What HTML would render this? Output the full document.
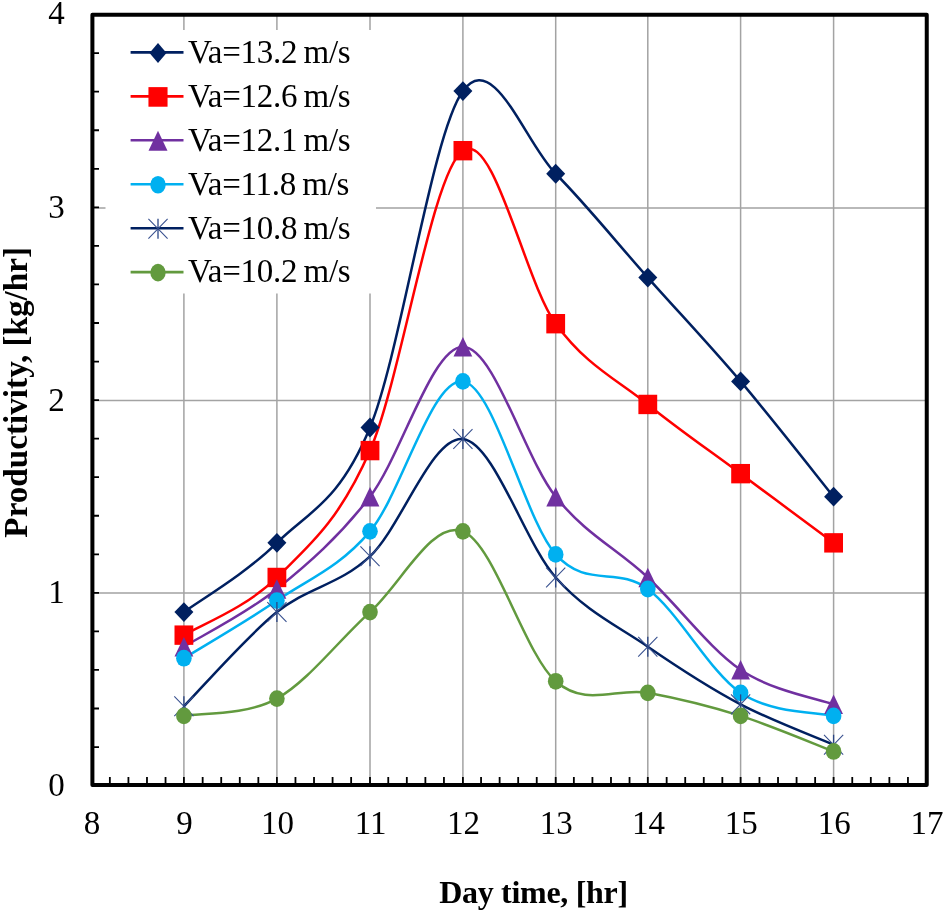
<!DOCTYPE html>
<html><head><meta charset="utf-8"><style>
html,body{margin:0;padding:0;background:#fff;width:944px;height:912px;overflow:hidden}
svg{display:block;will-change:transform}
text{font-family:"Liberation Serif",serif;fill:#000}
.tl{font-size:33px}
.lg{font-size:33px;letter-spacing:-0.3px;word-spacing:-1.5px}
.at{font-weight:bold}
.ax{font-size:32px;letter-spacing:-0.3px}
.ay{font-size:33.2px}
</style></head><body>
<svg width="944" height="912" viewBox="0 0 944 912">
<path d="M183.90 16V783M276.90 16V783M370.00 16V783M462.90 16V783M555.70 16V783M647.80 16V783M740.60 16V783M833.60 16V783M94 593.00H925M94 400.60H925M94 208.10H925" stroke="#A3A3A3" stroke-width="1.5" fill="none"/>
<rect x="105.5" y="30" width="270.5" height="263.5" fill="#fff"/>
<path d="M109.86 783.5V777M128.42 783.5V777M146.98 783.5V777M165.54 783.5V777M183.90 783.5V777M202.66 783.5V777M221.22 783.5V777M239.78 783.5V777M258.34 783.5V777M276.90 783.5V777M295.46 783.5V777M314.02 783.5V777M332.58 783.5V777M351.14 783.5V777M370.00 783.5V777M388.26 783.5V777M406.82 783.5V777M425.38 783.5V777M443.94 783.5V777M462.90 783.5V777M481.06 783.5V777M499.62 783.5V777M518.18 783.5V777M536.74 783.5V777M555.70 783.5V777M573.86 783.5V777M592.42 783.5V777M610.98 783.5V777M629.54 783.5V777M647.80 783.5V777M666.66 783.5V777M685.22 783.5V777M703.78 783.5V777M722.34 783.5V777M740.60 783.5V777M759.46 783.5V777M778.02 783.5V777M796.58 783.5V777M815.14 783.5V777M833.60 783.5V777M852.26 783.5V777M870.82 783.5V777M889.38 783.5V777M907.94 783.5V777M94 747.05H99M94 708.50H99M94 669.95H99M94 631.40H99M94 592.85H99M94 554.30H99M94 515.75H99M94 477.20H99M94 438.65H99M94 400.10H99M94 361.55H99M94 323.00H99M94 284.45H99M94 245.90H99M94 207.35H99M94 168.80H99M94 130.25H99M94 91.70H99M94 53.15H99" stroke="#000" stroke-width="1.8" fill="none"/>
<rect x="92.4" y="14.7" width="834.35" height="770.4" fill="none" stroke="#000" stroke-width="4" stroke-linejoin="round"/>
<path d="M183.90 612.08 C199.40 600.54 245.88 573.62 276.90 542.87 C307.92 512.11 339.00 502.81 370.00 427.51 C401.00 352.22 431.95 133.37 462.90 91.08 C493.85 48.78 524.88 142.66 555.70 173.75 C586.52 204.83 616.98 242.96 647.80 277.56 C678.62 312.17 709.63 344.85 740.60 381.38 C771.57 417.90 818.10 477.50 833.60 496.73" stroke="#002060" stroke-width="2.5" fill="none"/>
<path d="M183.90 635.14 C199.40 625.53 245.88 608.23 276.90 577.47 C307.92 546.71 339.00 521.72 370.00 450.59 C401.00 379.45 431.95 171.82 462.90 150.68 C493.85 129.53 524.88 281.41 555.70 323.70 C586.52 366.00 616.98 379.45 647.80 404.45 C678.62 429.44 709.63 450.59 740.60 473.66 C771.57 496.73 818.10 531.33 833.60 542.87" stroke="#FF0000" stroke-width="2.5" fill="none"/>
<path d="M183.90 646.68 C199.40 637.07 245.88 614.00 276.90 589.00 C307.92 564.01 339.00 537.10 370.00 496.73 C401.00 456.35 431.95 346.77 462.90 346.77 C493.85 346.77 524.88 458.28 555.70 496.73 C586.52 535.18 616.98 548.63 647.80 577.47 C678.62 606.31 709.63 648.60 740.60 669.75 C771.57 690.90 818.10 698.59 833.60 704.36" stroke="#7030A0" stroke-width="2.5" fill="none"/>
<path d="M183.90 658.22 C199.40 648.60 245.88 621.69 276.90 600.54 C307.92 579.39 339.00 567.86 370.00 531.33 C401.00 494.80 431.95 377.53 462.90 381.38 C493.85 385.22 524.88 519.80 555.70 554.40 C586.52 589.01 616.98 565.93 647.80 589.00 C678.62 612.08 709.63 671.67 740.60 692.82 C771.57 713.97 818.10 712.04 833.60 715.89" stroke="#00B0F0" stroke-width="2.5" fill="none"/>
<path d="M183.90 706.28 C199.40 690.58 245.88 637.07 276.90 612.08 C307.92 587.08 339.00 585.16 370.00 556.32 C401.00 527.49 431.95 435.53 462.90 439.05 C493.85 442.57 524.88 542.87 555.70 577.47 C586.52 612.08 616.98 625.53 647.80 646.68 C678.62 667.83 709.63 688.01 740.60 704.36 C771.57 720.70 818.10 738.00 833.60 744.73" stroke="#002060" stroke-width="2.5" fill="none"/>
<path d="M183.90 715.89 C199.40 713.01 245.88 715.89 276.90 698.59 C307.92 681.28 339.00 639.95 370.00 612.08 C401.00 584.20 431.95 519.80 462.90 531.33 C493.85 542.87 524.88 654.37 555.70 681.28 C586.52 708.20 616.98 687.05 647.80 692.82 C678.62 698.59 709.63 706.12 740.60 715.89 C771.57 725.66 818.10 745.53 833.60 751.46" stroke="#629A3E" stroke-width="2.5" fill="none"/>
<path d="M183.90 602.18L193.40 612.08L183.90 621.98L174.40 612.08Z" fill="#002060"/>
<path d="M276.90 532.97L286.40 542.87L276.90 552.76L267.40 542.87Z" fill="#002060"/>
<path d="M370.00 417.62L379.50 427.51L370.00 437.41L360.50 427.51Z" fill="#002060"/>
<path d="M462.90 81.18L472.40 91.08L462.90 100.98L453.40 91.08Z" fill="#002060"/>
<path d="M555.70 163.84L565.20 173.75L555.70 183.65L546.20 173.75Z" fill="#002060"/>
<path d="M647.80 267.66L657.30 277.56L647.80 287.46L638.30 277.56Z" fill="#002060"/>
<path d="M740.60 371.48L750.10 381.38L740.60 391.27L731.10 381.38Z" fill="#002060"/>
<path d="M833.60 486.83L843.10 496.73L833.60 506.62L824.10 496.73Z" fill="#002060"/>
<rect x="174.50" y="625.44" width="18.80" height="19.40" fill="#FF0000"/>
<rect x="267.50" y="567.77" width="18.80" height="19.40" fill="#FF0000"/>
<rect x="360.60" y="440.89" width="18.80" height="19.40" fill="#FF0000"/>
<rect x="453.50" y="140.98" width="18.80" height="19.40" fill="#FF0000"/>
<rect x="546.30" y="314.00" width="18.80" height="19.40" fill="#FF0000"/>
<rect x="638.40" y="394.75" width="18.80" height="19.40" fill="#FF0000"/>
<rect x="731.20" y="463.96" width="18.80" height="19.40" fill="#FF0000"/>
<rect x="824.20" y="533.16" width="18.80" height="19.40" fill="#FF0000"/>
<path d="M183.90 636.93L193.30 656.43L174.50 656.43Z" fill="#7030A0"/>
<path d="M276.90 579.25L286.30 598.75L267.50 598.75Z" fill="#7030A0"/>
<path d="M370.00 486.98L379.40 506.48L360.60 506.48Z" fill="#7030A0"/>
<path d="M462.90 337.02L472.30 356.52L453.50 356.52Z" fill="#7030A0"/>
<path d="M555.70 486.98L565.10 506.48L546.30 506.48Z" fill="#7030A0"/>
<path d="M647.80 567.72L657.20 587.22L638.40 587.22Z" fill="#7030A0"/>
<path d="M740.60 660.00L750.00 679.50L731.20 679.50Z" fill="#7030A0"/>
<path d="M833.60 694.61L843.00 714.11L824.20 714.11Z" fill="#7030A0"/>
<ellipse cx="183.90" cy="658.22" rx="7.80" ry="8.40" fill="#00B0F0"/>
<ellipse cx="276.90" cy="600.54" rx="7.80" ry="8.40" fill="#00B0F0"/>
<ellipse cx="370.00" cy="531.33" rx="7.80" ry="8.40" fill="#00B0F0"/>
<ellipse cx="462.90" cy="381.38" rx="7.80" ry="8.40" fill="#00B0F0"/>
<ellipse cx="555.70" cy="554.40" rx="7.80" ry="8.40" fill="#00B0F0"/>
<ellipse cx="647.80" cy="589.00" rx="7.80" ry="8.40" fill="#00B0F0"/>
<ellipse cx="740.60" cy="692.82" rx="7.80" ry="8.40" fill="#00B0F0"/>
<ellipse cx="833.60" cy="715.89" rx="7.80" ry="8.40" fill="#00B0F0"/>
<path d="M174.30 696.38L193.50 716.18M193.50 696.38L174.30 716.18" stroke="#3A5290" stroke-width="1.1" fill="none"/><path d="M183.90 696.28V716.28" stroke="#2A4585" stroke-width="1.3" fill="none"/>
<path d="M267.30 602.18L286.50 621.98M286.50 602.18L267.30 621.98" stroke="#3A5290" stroke-width="1.1" fill="none"/><path d="M276.90 602.08V622.08" stroke="#2A4585" stroke-width="1.3" fill="none"/>
<path d="M360.40 546.42L379.60 566.22M379.60 546.42L360.40 566.22" stroke="#3A5290" stroke-width="1.1" fill="none"/><path d="M370.00 546.32V566.32" stroke="#2A4585" stroke-width="1.3" fill="none"/>
<path d="M453.30 429.15L472.50 448.95M472.50 429.15L453.30 448.95" stroke="#3A5290" stroke-width="1.1" fill="none"/><path d="M462.90 429.05V449.05" stroke="#2A4585" stroke-width="1.3" fill="none"/>
<path d="M546.10 567.57L565.30 587.37M565.30 567.57L546.10 587.37" stroke="#3A5290" stroke-width="1.1" fill="none"/><path d="M555.70 567.47V587.47" stroke="#2A4585" stroke-width="1.3" fill="none"/>
<path d="M638.20 636.78L657.40 656.58M657.40 636.78L638.20 656.58" stroke="#3A5290" stroke-width="1.1" fill="none"/><path d="M647.80 636.68V656.68" stroke="#2A4585" stroke-width="1.3" fill="none"/>
<path d="M731.00 694.46L750.20 714.25M750.20 694.46L731.00 714.25" stroke="#3A5290" stroke-width="1.1" fill="none"/><path d="M740.60 694.36V714.36" stroke="#2A4585" stroke-width="1.3" fill="none"/>
<path d="M824.00 734.83L843.20 754.63M843.20 734.83L824.00 754.63" stroke="#3A5290" stroke-width="1.1" fill="none"/><path d="M833.60 734.73V754.73" stroke="#2A4585" stroke-width="1.3" fill="none"/>
<ellipse cx="183.90" cy="715.89" rx="7.80" ry="8.40" fill="#629A3E"/>
<ellipse cx="276.90" cy="698.59" rx="7.80" ry="8.40" fill="#629A3E"/>
<ellipse cx="370.00" cy="612.08" rx="7.80" ry="8.40" fill="#629A3E"/>
<ellipse cx="462.90" cy="531.33" rx="7.80" ry="8.40" fill="#629A3E"/>
<ellipse cx="555.70" cy="681.28" rx="7.80" ry="8.40" fill="#629A3E"/>
<ellipse cx="647.80" cy="692.82" rx="7.80" ry="8.40" fill="#629A3E"/>
<ellipse cx="740.60" cy="715.89" rx="7.80" ry="8.40" fill="#629A3E"/>
<ellipse cx="833.60" cy="751.46" rx="7.80" ry="8.40" fill="#629A3E"/>
<path d="M130.6 52.40H183.5" stroke="#002060" stroke-width="2.6"/>
<path d="M158.00 43.00L166.50 53.00L158.00 63.00L149.50 53.00Z" fill="#002060"/>
<text x="188" y="62.90" class="lg">Va=13.2 m/s</text>
<path d="M130.6 96.35H183.5" stroke="#FF0000" stroke-width="2.6"/>
<rect x="148.45" y="87.12" width="19.10" height="19.60" fill="#FF0000"/>
<text x="188" y="106.80" class="lg">Va=12.6 m/s</text>
<path d="M130.6 140.30H183.5" stroke="#7030A0" stroke-width="2.6"/>
<path d="M158.00 130.84L167.50 150.84L148.50 150.84Z" fill="#7030A0"/>
<text x="188" y="150.70" class="lg">Va=12.1 m/s</text>
<path d="M130.6 184.25H183.5" stroke="#00B0F0" stroke-width="2.6"/>
<ellipse cx="158.00" cy="184.76" rx="7.70" ry="8.80" fill="#00B0F0"/>
<text x="188" y="194.60" class="lg">Va=11.8 m/s</text>
<path d="M130.6 228.20H183.5" stroke="#002060" stroke-width="2.6"/>
<path d="M148.40 218.78L167.60 238.58M167.60 218.78L148.40 238.58" stroke="#3A5290" stroke-width="1.1" fill="none"/><path d="M158.00 218.68V238.68" stroke="#2A4585" stroke-width="1.3" fill="none"/>
<text x="188" y="238.50" class="lg">Va=10.8 m/s</text>
<path d="M130.6 272.15H183.5" stroke="#629A3E" stroke-width="2.6"/>
<ellipse cx="158.00" cy="272.60" rx="7.70" ry="8.80" fill="#629A3E"/>
<text x="188" y="282.40" class="lg">Va=10.2 m/s</text>
<text x="56.5" y="795.50" class="tl" text-anchor="middle">0</text>
<text x="56.5" y="602.90" class="tl" text-anchor="middle">1</text>
<text x="56.5" y="410.60" class="tl" text-anchor="middle">2</text>
<text x="56.5" y="218.15" class="tl" text-anchor="middle">3</text>
<text x="56.5" y="24.30" class="tl" text-anchor="middle">4</text>
<text x="91.90" y="834" class="tl" text-anchor="middle">8</text>
<text x="184.50" y="834" class="tl" text-anchor="middle">9</text>
<text x="277.50" y="834" class="tl" text-anchor="middle">10</text>
<text x="370.60" y="834" class="tl" text-anchor="middle">11</text>
<text x="463.50" y="834" class="tl" text-anchor="middle">12</text>
<text x="556.30" y="834" class="tl" text-anchor="middle">13</text>
<text x="648.40" y="834" class="tl" text-anchor="middle">14</text>
<text x="741.20" y="834" class="tl" text-anchor="middle">15</text>
<text x="834.20" y="834" class="tl" text-anchor="middle">16</text>
<text x="927.10" y="834" class="tl" text-anchor="middle">17</text>
<text x="533.5" y="902.5" class="at ax" text-anchor="middle">Day time, [hr]</text>
<text transform="translate(27 392.3) rotate(-90)" class="at ay" text-anchor="middle">Productivity, [kg/hr]</text>
</svg>
</body></html>
